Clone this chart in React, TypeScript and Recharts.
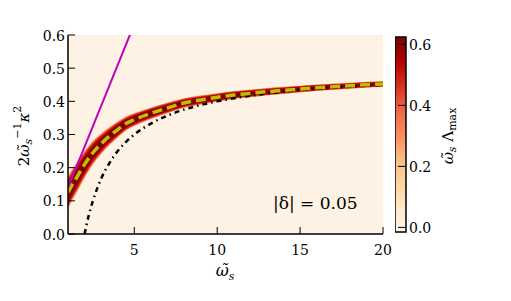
import React from 'react';
import { ComposedChart, Area, Line, XAxis, YAxis, CartesianGrid, ReferenceArea } from 'recharts';

// ---- data ----
const omegaGrid = [1, 1.25, 1.5, 1.75, 2, 2.5, 3, 3.5, 4, 4.5, 5, 6, 7, 8, 9, 10, 11, 12, 13, 14, 15, 16, 17, 18, 19, 20];
const ridgeCenter = [0.125, 0.148, 0.168, 0.19, 0.21, 0.245, 0.272, 0.295, 0.315, 0.333, 0.345, 0.364, 0.38, 0.395, 0.404, 0.412, 0.419, 0.424, 0.429, 0.433, 0.437, 0.441, 0.444, 0.447, 0.45, 0.452];
const ridgeHalfWidth = [0.05, 0.049, 0.047, 0.045, 0.042, 0.037, 0.032, 0.028, 0.025, 0.022, 0.02, 0.018, 0.0165, 0.015, 0.014, 0.013, 0.0125, 0.012, 0.0115, 0.011, 0.0105, 0.01, 0.0098, 0.0095, 0.0092, 0.009];

const cutoffOmega = [2, 2.1, 2.25, 2.5, 2.75, 3, 3.5, 4, 4.5, 5, 6, 7, 8, 9, 10, 12, 14, 16, 18, 20];
const cutoffValue = [0, 0.024, 0.056, 0.1, 0.136, 0.167, 0.214, 0.25, 0.278, 0.3, 0.333, 0.357, 0.375, 0.389, 0.4, 0.417, 0.429, 0.438, 0.444, 0.45];

const slopeOmega = [1, 5];
const slopeValue = [0.14, 0.633];

const xTicks = [5, 10, 15, 20];
const yTicks = [0, 0.1, 0.2, 0.3, 0.4, 0.5, 0.6];
const cbTicks = [0, 0.2, 0.4, 0.6];
const xDomain = [1, 20];
const yDomain = [0, 0.6];
const cbDomain = [-0.015, 0.624];
const annotationText = '|δ| = 0.05';

// OrRd colormap stops
const orrd = ['#fff7ec', '#fee8c8', '#fdd49e', '#fdbb84', '#fc8d59', '#ef6548', '#d7301f', '#b30000', '#7f0000'];
const bandLevels = [
  { k: 1.0, color: '#fdc08a' },
  { k: 0.9, color: '#ef6548' },
  { k: 0.8, color: '#d7301f' },
  { k: 0.66, color: '#b30000' },
  { k: 0.45, color: '#820000' },
];

const bandData = omegaGrid.map((x, i) => {
  const row: any = { x, center: ridgeCenter[i] };
  bandLevels.forEach((lv, j) => {
    row['b' + j] = [ridgeCenter[i] - lv.k * ridgeHalfWidth[i], ridgeCenter[i] + lv.k * ridgeHalfWidth[i]];
  });
  return row;
});
const cutoffData = cutoffOmega.map((x, i) => ({ x, y: cutoffValue[i] }));
const slopeData = slopeOmega.map((x, i) => ({ x, y: slopeValue[i] }));

const FONT = "DejaVu Serif";
const FS = 14;
const txt = (size: number) => ({ fontFamily: FONT, fontSize: size });

const BottomTick = (p: any) => (
  <g>
    <line x1={p.x} x2={p.x} y1={p.y} y2={p.y - 7} stroke="#000" strokeWidth={1} />
    <text x={p.x} y={p.y + 21} textAnchor="middle" style={txt(FS)} fill="#000">{p.payload.value}</text>
  </g>
);
const TopTick = (p: any) => (
  <line x1={p.x} x2={p.x} y1={p.y} y2={p.y + 7} stroke="#000" strokeWidth={1} />
);
const LeftTick = (p: any) => (
  <g>
    <line x1={p.x} x2={p.x + 7} y1={p.y} y2={p.y} stroke="#000" strokeWidth={1} />
    <text x={p.x - 3} y={p.y + 5.5} textAnchor="end" style={txt(FS)} fill="#000">{Number(p.payload.value).toFixed(1)}</text>
  </g>
);
const RightTick = (p: any) => (
  <line x1={p.x} x2={p.x - 7} y1={p.y} y2={p.y} stroke="#000" strokeWidth={1} />
);
const CbTick = (p: any) => (
  <g>
    <line x1={p.x - 8} x2={p.x} y1={p.y} y2={p.y} stroke="#000" strokeWidth={1} />
    <text x={p.x + 3} y={p.y + 5.5} textAnchor="start" style={txt(FS)} fill="#000">{Number(p.payload.value).toFixed(1)}</text>
  </g>
);

export default function App() {
  return (
    <div style={{ position: 'absolute', left: 0, top: 0, width: 511, height: 301, background: '#fff', fontFamily: FONT }}>
      <div style={{ position: 'absolute', left: 0, top: 0 }}>
        <ComposedChart width={511} height={301} data={bandData} margin={{ top: 35, right: 128, bottom: 37, left: 28 }}>
          <CartesianGrid fill="#fdf2e3" horizontal={false} vertical={false} stroke="none" />
          {bandLevels.map((lv, j) => (
            <Area key={j} type="monotone" dataKey={'b' + j} stroke="none" fill={lv.color} fillOpacity={1} isAnimationActive={false} dot={false} activeDot={false} />
          ))}
          <Line data={cutoffData} dataKey="y" type="monotone" stroke="#000" strokeWidth={2.5} strokeDasharray="5 4 1.5 4" dot={false} activeDot={false} isAnimationActive={false} />
          <Line dataKey="center" type="monotone" stroke="#bfbf00" strokeWidth={3.5} strokeDasharray="10 5" dot={false} activeDot={false} isAnimationActive={false} />
          <Line data={slopeData} dataKey="y" type="linear" stroke="#bf00bf" strokeWidth={2} dot={false} activeDot={false} isAnimationActive={false} />
          <XAxis dataKey="x" type="number" domain={xDomain} ticks={xTicks} allowDataOverflow height={30} tickSize={0} tickMargin={0} tick={BottomTick} axisLine={{ stroke: '#000', strokeWidth: 1.5 }} interval={0} />
          <XAxis xAxisId="top" orientation="top" dataKey="x" type="number" domain={xDomain} ticks={xTicks} allowDataOverflow height={0} tickSize={0} tickMargin={0} tick={TopTick} axisLine={{ stroke: '#000', strokeWidth: 1.5 }} interval={0} />
          <YAxis type="number" domain={yDomain} ticks={yTicks} allowDataOverflow width={40} tickSize={0} tickMargin={0} tick={LeftTick} axisLine={{ stroke: '#000', strokeWidth: 1.5 }} interval={0} />
          <YAxis yAxisId="right" orientation="right" type="number" domain={yDomain} ticks={yTicks} allowDataOverflow width={0} tickSize={0} tickMargin={0} tick={RightTick} axisLine={{ stroke: '#000', strokeWidth: 1.5 }} interval={0} />
          <text x={273} y={209} style={txt(17)} fill="#000">{annotationText}</text>
          <text x={225} y={276} textAnchor="middle" style={txt(16)} fill="#000">
            <tspan fontStyle="italic">ω̃</tspan>
            <tspan fontStyle="italic" fontSize={11} dy={4}>s</tspan>
          </text>
          <text x={24} y={136} transform="rotate(-90 24 136)" textAnchor="middle" dominantBaseline="central" style={txt(15)} fill="#000">
            <tspan>2</tspan>
            <tspan fontStyle="italic">ω̃</tspan>
            <tspan fontStyle="italic" fontSize={11} dy={4}>s</tspan>
            <tspan fontSize={11} dy={-11}>−1</tspan>
            <tspan fontStyle="italic" dy={7}>κ</tspan>
            <tspan fontSize={11} dy={-7}>2</tspan>
          </text>
          <text x={448} y={136} transform="rotate(-90 448 136)" textAnchor="middle" dominantBaseline="central" style={txt(15)} fill="#000">
            <tspan fontStyle="italic">ω̃</tspan>
            <tspan fontStyle="italic" fontSize={11} dy={4}>s</tspan>
            <tspan dy={-4}> Λ</tspan>
            <tspan fontSize={11} dy={4}>max</tspan>
          </text>
        </ComposedChart>
      </div>
      <div style={{ position: 'absolute', left: 395, top: 0 }}>
        <ComposedChart width={116} height={301} data={cbTicks.map((v) => ({ x: 0.5, v }))} margin={{ top: 37, right: 65, bottom: 69, left: 0 }}>
          <defs>
            <linearGradient id="orrdGrad" x1="0" y1="1" x2="0" y2="0">
              {orrd.map((c, i) => (
                <stop key={i} offset={`${(i / (orrd.length - 1)) * 100}%`} stopColor={c} />
              ))}
            </linearGradient>
          </defs>
          <XAxis dataKey="x" type="number" domain={[0, 1]} hide />
          <YAxis orientation="right" type="number" domain={cbDomain} ticks={cbTicks} allowDataOverflow width={40} tickSize={0} tickMargin={0} tick={CbTick} axisLine={false} interval={0} />
          <ReferenceArea x1={0} x2={1} y1={cbDomain[0]} y2={cbDomain[1]} fill="url(#orrdGrad)" fillOpacity={1} stroke="#000" strokeWidth={1.5} ifOverflow="visible" />
        </ComposedChart>
      </div>
    </div>
  );
}
